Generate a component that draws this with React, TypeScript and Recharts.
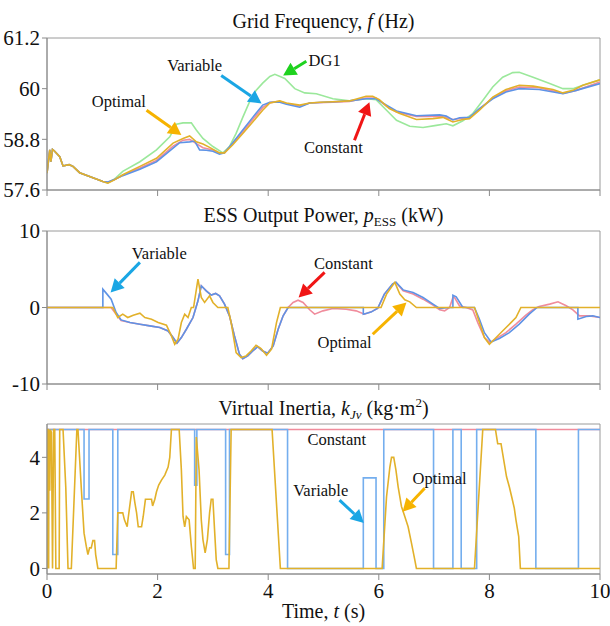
import React from 'react';
import {
  LineChart,
  Line,
  XAxis,
  YAxis,
  ReferenceArea,
  ReferenceLine,
  ReferenceDot,
} from 'recharts';

// Three stacked panels sharing a 0-10 s time axis. Each series is a list of
// [t, value] pairs.

type Pt = [number, number];

const timeTicks = [0, 2, 4, 6, 8, 10];

// ---- Grid frequency (Hz)
const freqTicks = [57.6, 58.8, 60, 61.2];
const freqOptimal: Pt[] = [
  [0, 58.0], [0.05, 58.55], [0.07, 58.27], [0.1, 58.56], [0.13, 58.53], [0.23, 58.39],
  [0.29, 58.17], [0.4, 58.2], [0.47, 58.16], [0.59, 58.01], [0.77, 57.92], [1.01, 57.8],
  [1.1, 57.76], [1.22, 57.84], [1.37, 57.96], [1.68, 58.16], [1.98, 58.35], [2.28, 58.71],
  [2.46, 58.82], [2.58, 58.88], [2.7, 58.74], [2.82, 58.69], [2.94, 58.61], [3.12, 58.48],
  [3.21, 58.48], [3.36, 58.67], [3.54, 58.94], [3.72, 59.21], [3.9, 59.49], [4.03, 59.66],
  [4.21, 59.71], [4.33, 59.66], [4.57, 59.61], [4.75, 59.66], [4.93, 59.68], [5.17, 59.69],
  [5.47, 59.71], [5.77, 59.82], [5.89, 59.82], [6.01, 59.74], [6.19, 59.53], [6.38, 59.41],
  [6.68, 59.27], [6.98, 59.29], [7.16, 59.32], [7.34, 59.21], [7.52, 59.27], [7.64, 59.29],
  [7.82, 59.49], [8.06, 59.8], [8.3, 59.98], [8.54, 60.08], [8.79, 60.06], [9.15, 59.98],
  [9.33, 59.9], [9.51, 59.96], [9.69, 60.08], [10, 60.21],
];
const freqVariable: Pt[] = [
  [0, 58.0], [0.05, 58.55], [0.07, 58.27], [0.1, 58.56], [0.13, 58.53], [0.23, 58.39],
  [0.29, 58.17], [0.4, 58.2], [0.47, 58.16], [0.59, 58.01], [0.77, 57.92], [1.01, 57.8],
  [1.1, 57.79], [1.22, 57.85], [1.37, 57.94], [1.68, 58.09], [1.98, 58.27], [2.28, 58.59],
  [2.4, 58.72], [2.58, 58.74], [2.67, 58.76], [2.76, 58.55], [2.88, 58.54], [3.0, 58.52],
  [3.12, 58.45], [3.21, 58.48], [3.36, 58.72], [3.54, 59.02], [3.72, 59.32], [3.9, 59.61],
  [4.03, 59.68], [4.21, 59.68], [4.33, 59.63], [4.57, 59.56], [4.75, 59.66], [5.17, 59.69],
  [5.47, 59.71], [5.77, 59.76], [5.95, 59.76], [6.14, 59.61], [6.32, 59.47], [6.68, 59.36],
  [7.1, 59.38], [7.22, 59.35], [7.34, 59.26], [7.46, 59.31], [7.64, 59.32], [7.82, 59.53],
  [8.06, 59.76], [8.3, 59.92], [8.54, 60.0], [8.9, 59.98], [9.33, 59.88], [9.57, 59.96],
  [10, 60.12],
];
const freqConstant: Pt[] = [
  [0, 58.0], [0.05, 58.55], [0.07, 58.27], [0.1, 58.56], [0.13, 58.53], [0.23, 58.39],
  [0.29, 58.17], [0.4, 58.2], [0.47, 58.16], [0.59, 58.01], [0.77, 57.92], [1.01, 57.8],
  [1.1, 57.78], [1.22, 57.85], [1.37, 57.95], [1.68, 58.12], [1.98, 58.3], [2.28, 58.64],
  [2.46, 58.78], [2.58, 58.8], [2.7, 58.7], [2.82, 58.6], [3.0, 58.55], [3.12, 58.47],
  [3.21, 58.48], [3.36, 58.7], [3.54, 58.98], [3.72, 59.27], [3.9, 59.55], [4.03, 59.67],
  [4.21, 59.7], [4.33, 59.65], [4.57, 59.59], [4.75, 59.66], [5.17, 59.68], [5.47, 59.7],
  [5.77, 59.78], [5.95, 59.78], [6.14, 59.58], [6.32, 59.45], [6.68, 59.34], [7.1, 59.35],
  [7.34, 59.27], [7.52, 59.3], [7.64, 59.31], [7.82, 59.51], [8.06, 59.78], [8.3, 59.95],
  [8.54, 60.04], [8.9, 60.02], [9.33, 59.89], [9.57, 59.96], [10, 60.16],
];
const freqDG1: Pt[] = [
  [0, 58.0], [0.05, 58.55], [0.07, 58.27], [0.1, 58.56], [0.13, 58.53], [0.23, 58.39],
  [0.29, 58.17], [0.4, 58.2], [0.47, 58.16], [0.59, 58.01], [0.77, 57.92], [1.01, 57.8],
  [1.1, 57.77], [1.22, 57.86], [1.37, 58.04], [1.68, 58.27], [1.98, 58.55], [2.22, 58.86],
  [2.34, 59.16], [2.46, 59.19], [2.61, 59.19], [2.7, 59.02], [2.82, 58.82], [3.0, 58.63],
  [3.18, 58.48], [3.3, 58.63], [3.42, 58.94], [3.54, 59.32], [3.66, 59.68], [3.78, 59.96],
  [3.9, 60.13], [4.03, 60.29], [4.12, 60.34], [4.3, 60.24], [4.48, 60.0], [4.66, 59.9],
  [4.87, 59.88], [5.17, 59.76], [5.47, 59.71], [5.77, 59.76], [5.95, 59.74], [6.14, 59.49],
  [6.32, 59.25], [6.56, 59.11], [6.8, 59.08], [7.04, 59.13], [7.22, 59.17], [7.34, 59.12],
  [7.52, 59.24], [7.7, 59.41], [7.88, 59.72], [8.06, 60.04], [8.24, 60.27], [8.42, 60.38],
  [8.54, 60.39], [8.79, 60.27], [9.09, 60.12], [9.33, 60.0], [9.51, 60.0], [9.69, 60.08],
  [10, 60.21],
];

// ---- ESS output power (kW)
const powerTicks = [-10, 0, 10];
const powerOptimal: Pt[] = [
  [0, 0], [1.19, 0], [1.28, -1.31], [1.37, -0.87], [1.46, -1.31], [1.56, -1.0], [1.68, -0.74],
  [1.77, -1.31], [1.89, -1.53], [2.01, -1.97], [2.16, -2.31], [2.25, -3.71], [2.31, -4.8],
  [2.37, -4.15], [2.43, -1.97], [2.49, -0.87], [2.55, -1.31], [2.61, 0], [2.65, 0],
  [2.73, 3.71], [2.79, 1.31], [2.85, 0.66], [2.94, 1.53], [3.0, 0.66], [3.09, 0], [3.27, 0],
  [3.33, -1.97], [3.42, -5.9], [3.51, -6.55], [3.6, -6.33], [3.69, -5.68], [3.78, -4.93],
  [3.87, -5.37], [3.97, -6.24], [4.06, -5.46], [4.15, -1.97], [4.22, 0], [6.04, 0],
  [6.14, 1.75], [6.29, 3.28], [6.38, 1.75], [6.47, 1.0], [6.56, 0.74], [6.68, 0], [7.73, 0],
  [7.82, -1.97], [7.91, -3.93], [8.0, -4.8], [8.09, -4.15], [8.18, -3.49], [8.27, -2.84],
  [8.39, -1.97], [8.48, -1.31], [8.57, 0], [10, 0],
];
const powerVariable: Pt[] = [
  [0, 0], [1.01, 0], [1.01, 2.4], [1.07, 1.88], [1.16, 1.09], [1.25, -0.66], [1.34, -1.62],
  [1.5, -1.97], [1.68, -2.18], [1.86, -2.4], [2.04, -2.62], [2.19, -3.06], [2.28, -3.93],
  [2.35, -4.67], [2.43, -3.93], [2.52, -2.84], [2.64, -1.31], [2.73, 0.87], [2.79, 2.84],
  [2.88, 2.18], [2.97, 1.62], [3.05, 1.83], [3.12, 1.53], [3.21, 0.44], [3.3, -1.09],
  [3.39, -3.71], [3.48, -6.1], [3.54, -6.68], [3.63, -6.33], [3.72, -5.68], [3.81, -5.11],
  [3.9, -5.68], [3.99, -5.98], [4.09, -5.02], [4.18, -2.84], [4.27, -1.09], [4.36, 0],
  [5.72, 0], [5.72, -0.87], [5.86, -0.6], [5.98, -0.1], [6.1, 1.75], [6.25, 3.1], [6.31, 3.3],
  [6.44, 2.3], [6.62, 1.97], [6.8, 1.31], [6.98, 0.44], [7.1, -0.13], [7.28, 0], [7.34, 0],
  [7.34, 1.6], [7.4, 1.4], [7.52, 0], [7.73, 0], [7.82, -1.53], [7.91, -3.3], [8.03, -4.5],
  [8.18, -4.06], [8.36, -3.28], [8.54, -2.18], [8.72, -0.87], [8.84, -0.13], [8.86, 0],
  [9.6, 0], [9.6, -1.53], [9.75, -1.18], [9.87, -1.09], [10, -1.31],
];
const powerConstant: Pt[] = [
  [0, 0], [1.16, 0], [1.25, -0.9], [1.34, -1.7], [1.5, -1.97], [1.68, -2.18], [1.86, -2.4],
  [2.04, -2.62], [2.19, -3.06], [2.28, -3.93], [2.35, -4.67], [2.43, -3.93], [2.52, -2.84],
  [2.64, -1.31], [2.73, 0.87], [2.79, 2.84], [2.88, 2.18], [2.97, 1.62], [3.05, 1.83],
  [3.12, 1.53], [3.21, 0.44], [3.3, -1.09], [3.39, -3.71], [3.48, -6.1], [3.54, -6.68],
  [3.63, -6.33], [3.72, -5.68], [3.81, -5.11], [3.9, -5.68], [3.99, -5.98], [4.09, -5.02],
  [4.18, -2.84], [4.27, -1.09], [4.36, 0], [4.45, 0.66], [4.54, 0.96], [4.63, 0.66],
  [4.75, -0.3], [4.84, -0.87], [4.99, -0.44], [5.17, -0.13], [5.41, -0.22], [5.59, -0.44],
  [5.74, -0.87], [5.86, -0.57], [5.98, -0.13], [6.1, 1.75], [6.25, 3.06], [6.31, 3.28],
  [6.44, 2.18], [6.62, 1.75], [6.8, 1.09], [6.98, 0.31], [7.1, -0.31], [7.19, -0.44],
  [7.28, 0], [7.34, 1.31], [7.37, 1.3], [7.46, 0.2], [7.58, 0], [7.7, -0.31], [7.79, -1.97],
  [7.91, -3.93], [8.01, -4.59], [8.12, -4.06], [8.3, -3.28], [8.48, -2.18], [8.66, -1.0],
  [8.78, -0.31], [8.9, 0.13], [9.09, 0.44], [9.24, 0.74], [9.39, 0.22], [9.51, -0.31],
  [9.63, -1.09], [9.81, -1.09], [10, -1.31],
];

// ---- Virtual inertia (kg·m²)
const inertiaTicks = [0, 2, 4];
const inertiaConstant: Pt[] = [[0, 5], [10, 5]];
const inertiaVariable: Pt[] = [
  [0, 5], [0.67, 5], [0.67, 2.5], [0.76, 2.5], [0.76, 5], [1.19, 5], [1.19, 0.5], [1.28, 0.5],
  [1.28, 5], [2.67, 5], [2.67, 3.0], [2.71, 3.0], [2.71, 5], [3.23, 5], [3.23, 0.5],
  [3.3, 0.5], [3.3, 5], [4.35, 5], [4.35, 0], [5.72, 0], [5.72, 3.26], [5.95, 3.26],
  [5.95, 0], [6.09, 0], [6.09, 5], [6.99, 5], [6.99, 0], [7.34, 0], [7.34, 5], [7.49, 5],
  [7.49, 0], [7.77, 0], [7.77, 5], [8.84, 5], [8.84, 0], [9.61, 0], [9.61, 5], [10, 5],
];
const inertiaOptimal: Pt[] = [
  [0, 0], [0.005, 5], [0.02, 5], [0.03, 0], [0.035, 5], [0.05, 2.8], [0.06, 5], [0.08, 4.9],
  [0.1, 0], [0.12, 5], [0.14, 5], [0.16, 0], [0.22, 0], [0.23, 5], [0.29, 5], [0.34, 2.9],
  [0.38, 0], [0.44, 0], [0.54, 5], [0.56, 5], [0.62, 2.9], [0.67, 1.27], [0.71, 0.8],
  [0.74, 0.5], [0.77, 0.74], [0.8, 0.74], [0.83, 1.0], [0.86, 1.0], [0.88, 0.5], [0.92, 0],
  [1.25, 0], [1.28, 2.0], [1.37, 2.0], [1.4, 1.75], [1.45, 1.5], [1.46, 1.69], [1.53, 2.76],
  [1.56, 2.76], [1.59, 2.35], [1.62, 2.0], [1.65, 1.5], [1.71, 1.5], [1.74, 1.87],
  [1.78, 2.49], [1.89, 2.49], [1.91, 2.25], [1.95, 2.49], [1.98, 2.76], [2.02, 3.0],
  [2.07, 3.18], [2.13, 3.36], [2.19, 3.65], [2.22, 4.0], [2.25, 5], [2.39, 5], [2.43, 3.54],
  [2.46, 1.87], [2.49, 1.5], [2.52, 1.87], [2.57, 1.75], [2.61, 0.8], [2.65, 0], [2.68, 0],
  [2.7, 4.73], [2.75, 3.54], [2.79, 1.75], [2.82, 1.04], [2.86, 0.56], [2.9, 1.04],
  [2.94, 2.0], [2.97, 2.49], [3.0, 2.49], [3.03, 1.39], [3.06, 0.32], [3.09, 0], [3.29, 0],
  [3.33, 5], [4.07, 5], [4.22, 0], [6.06, 0], [6.14, 2.58], [6.2, 3.65], [6.23, 4.0],
  [6.27, 4.0], [6.31, 3.54], [6.35, 2.94], [6.41, 2.23], [6.47, 1.87], [6.53, 1.5],
  [6.59, 0.92], [6.65, 0.32], [6.68, 0], [7.73, 0], [7.88, 5], [8.11, 5], [8.15, 4.49],
  [8.21, 4.49], [8.27, 3.77], [8.31, 3.3], [8.36, 2.94], [8.41, 2.52], [8.45, 2.17],
  [8.48, 1.75], [8.53, 1.15], [8.56, 0], [10, 0],
];

// annotation callouts: text position, arrow tail -> head (data coords)
type Note = { text: string; at: Pt; from?: Pt; to?: Pt; color?: string };

const freqNotes: Note[] = [
  { text: 'DG1', at: [5.02, 60.67], from: [4.69, 60.65], to: [4.27, 60.31], color: '#1ED21E' },
  { text: 'Variable', at: [2.67, 60.55], from: [3.15, 60.31], to: [3.88, 59.65], color: '#1AA6E4' },
  { text: 'Optimal', at: [1.3, 59.7], from: [1.8, 59.49], to: [2.43, 58.9], color: '#F6B300' },
  { text: 'Constant', at: [5.18, 58.6], from: [5.56, 58.78], to: [5.83, 59.68], color: '#F01515' },
];
const powerNotes: Note[] = [
  { text: 'Variable', at: [2.03, 7.08], from: [1.68, 5.9], to: [1.15, 1.97], color: '#1AA6E4' },
  { text: 'Constant', at: [5.36, 5.77], from: [5.02, 4.59], to: [4.55, 1.31], color: '#F01515' },
  { text: 'Optimal', at: [5.38, -4.59], from: [5.89, -3.5], to: [6.5, 0.66], color: '#F6B300' },
];
const inertiaNotes: Note[] = [
  { text: 'Constant', at: [5.24, 4.64] },
  { text: 'Variable', at: [4.95, 2.82], from: [5.29, 2.46], to: [5.73, 1.64], color: '#1AA6E4' },
  { text: 'Optimal', at: [7.1, 3.25], from: [6.83, 2.89], to: [6.43, 2.04], color: '#F6B300' },
];

const SERIF = "'Liberation Serif', Tinos, 'Times New Roman', 'DejaVu Serif', serif";
const GOLD = '#E2B12A';
const BLUE = '#5E93E6';
const BLUE_LIGHT = '#74AEEE';
const PINK = '#F08C9C';
const GREEN = '#9BE89B';

const toRows = (pts: Pt[]) => pts.map(([t, v]) => ({ t, v }));

const arrow = (color: string) => (p: any) => {
  const { x1, y1, x2, y2 } = p;
  const dx = x2 - x1;
  const dy = y2 - y1;
  const len = Math.hypot(dx, dy) || 1;
  const ux = dx / len;
  const uy = dy / len;
  const head = 13;
  const half = 7;
  const bx = x2 - ux * head;
  const by = y2 - uy * head;
  return (
    <g>
      <line x1={x1} y1={y1} x2={bx} y2={by} stroke={color} strokeWidth={3} />
      <polygon
        points={`${x2},${y2} ${bx - uy * half},${by + ux * half} ${bx + uy * half},${by - ux * half}`}
        fill={color}
      />
    </g>
  );
};

type Series = { data: Pt[]; color: string };

function Panel(props: {
  height: number;
  top: number;
  marginTop: number;
  marginBottom: number;
  xHeight: number;
  domain: [number, number];
  ticks: number[];
  fmt?: (v: number) => string;
  series: Series[];
  notes: Note[];
  showTime?: boolean;
}) {
  const { domain } = props;
  return (
    <div style={{ position: 'absolute', left: 0, top: props.top }}>
      <LineChart
        width={610}
        height={props.height}
        margin={{ top: props.marginTop, right: 10, bottom: props.marginBottom, left: 0 }}
        style={{ fontFamily: SERIF }}
      >
        <XAxis
          type="number"
          dataKey="t"
          domain={[0, 10]}
          ticks={timeTicks}
          height={props.xHeight}
          stroke="#8a8a8a"
          tickSize={6}
          tickMargin={3}
          interval={0}
          tickFormatter={props.showTime ? (v: number) => String(v) : () => ''}
          tick={{ fontSize: 21, fill: '#111', fontFamily: SERIF }}
          allowDataOverflow
        />
        <YAxis
          type="number"
          domain={domain}
          ticks={props.ticks}
          width={47}
          stroke="#8a8a8a"
          tickSize={5}
          tickMargin={2}
          interval={0}
          tickFormatter={props.fmt}
          tick={{ fontSize: 21, fill: '#111', fontFamily: SERIF }}
          allowDataOverflow
        />
        <ReferenceArea
          x1={0}
          x2={10}
          y1={domain[0]}
          y2={domain[1]}
          fill="none"
          stroke="#9a9a9a"
          strokeWidth={1}
        />
        {props.series.map((s, i) => (
          <Line
            key={i}
            data={toRows(s.data)}
            dataKey="v"
            type="linear"
            stroke={s.color}
            strokeWidth={1.6}
            dot={false}
            activeDot={false}
            isAnimationActive={false}
          />
        ))}
        {props.notes
          .filter((n) => n.from && n.to)
          .map((n, i) => (
            <ReferenceLine
              key={'a' + i}
              segment={[
                { x: n.from![0], y: n.from![1] },
                { x: n.to![0], y: n.to![1] },
              ]}
              shape={arrow(n.color || '#000')}
            />
          ))}
        {props.notes.map((n, i) => (
          <ReferenceDot
            key={'t' + i}
            x={n.at[0]}
            y={n.at[1]}
            r={0}
            shape={(p: any) => (
              <text
                x={p.cx}
                y={p.cy}
                textAnchor="middle"
                dominantBaseline="central"
                style={{ fontFamily: SERIF }}
                fontSize={16.5}
                fill="#111"
              >
                {n.text}
              </text>
            )}
          />
        ))}
      </LineChart>
    </div>
  );
}

const titleStyle: React.CSSProperties = {
  position: 'absolute',
  left: 47,
  width: 553,
  textAlign: 'center',
  fontFamily: SERIF,
  fontSize: 20,
  lineHeight: '20px',
  color: '#111',
  whiteSpace: 'nowrap',
};
const subStyle: React.CSSProperties = { fontSize: 13, verticalAlign: -4, lineHeight: 0 };

export default function App() {
  return (
    <div
      style={{
        position: 'absolute',
        left: 0,
        top: 0,
        width: 610,
        height: 626,
        background: '#fff',
        overflow: 'hidden',
        fontFamily: SERIF,
      }}
    >
      <div style={{ ...titleStyle, top: 11 }}>
        Grid Frequency, <i>f</i> (Hz)
      </div>
      <Panel
        top={0}
        height={212}
        marginTop={38}
        marginBottom={12}
        xHeight={10}
        domain={[57.6, 61.2]}
        ticks={freqTicks}
        fmt={(v) => (v === 60 ? '60' : v.toFixed(1))}
        series={[
          { data: freqDG1, color: GREEN },
          { data: freqConstant, color: PINK },
          { data: freqVariable, color: BLUE },
          { data: freqOptimal, color: GOLD },
        ]}
        notes={freqNotes}
      />

      <div style={{ ...titleStyle, top: 205 }}>
        ESS Output Power, <i>p</i>
        <span style={subStyle}>ESS</span> (kW)
      </div>
      <Panel
        top={200}
        height={200}
        marginTop={31}
        marginBottom={0}
        xHeight={16}
        domain={[-10, 10]}
        ticks={powerTicks}
        series={[
          { data: powerConstant, color: PINK },
          { data: powerVariable, color: BLUE },
          { data: powerOptimal, color: GOLD },
        ]}
        notes={powerNotes}
      />

      <div style={{ ...titleStyle, top: 398 }}>
        Virtual Inertia, <i>k</i>
        <span style={{ ...subStyle, fontStyle: 'italic' }}>Jv</span> (kg·m
        <sup style={{ fontSize: 13, lineHeight: 0 }}>2</sup>)
      </div>
      <Panel
        top={400}
        height={226}
        marginTop={24}
        marginBottom={22}
        xHeight={30}
        domain={[-0.2, 5.2]}
        ticks={inertiaTicks}
        series={[
          { data: inertiaConstant, color: PINK },
          { data: inertiaVariable, color: BLUE_LIGHT },
          { data: inertiaOptimal, color: GOLD },
        ]}
        notes={inertiaNotes}
        showTime
      />
      <div style={{ ...titleStyle, top: 601 }}>
        Time, <i>t</i> (s)
      </div>
    </div>
  );
}
